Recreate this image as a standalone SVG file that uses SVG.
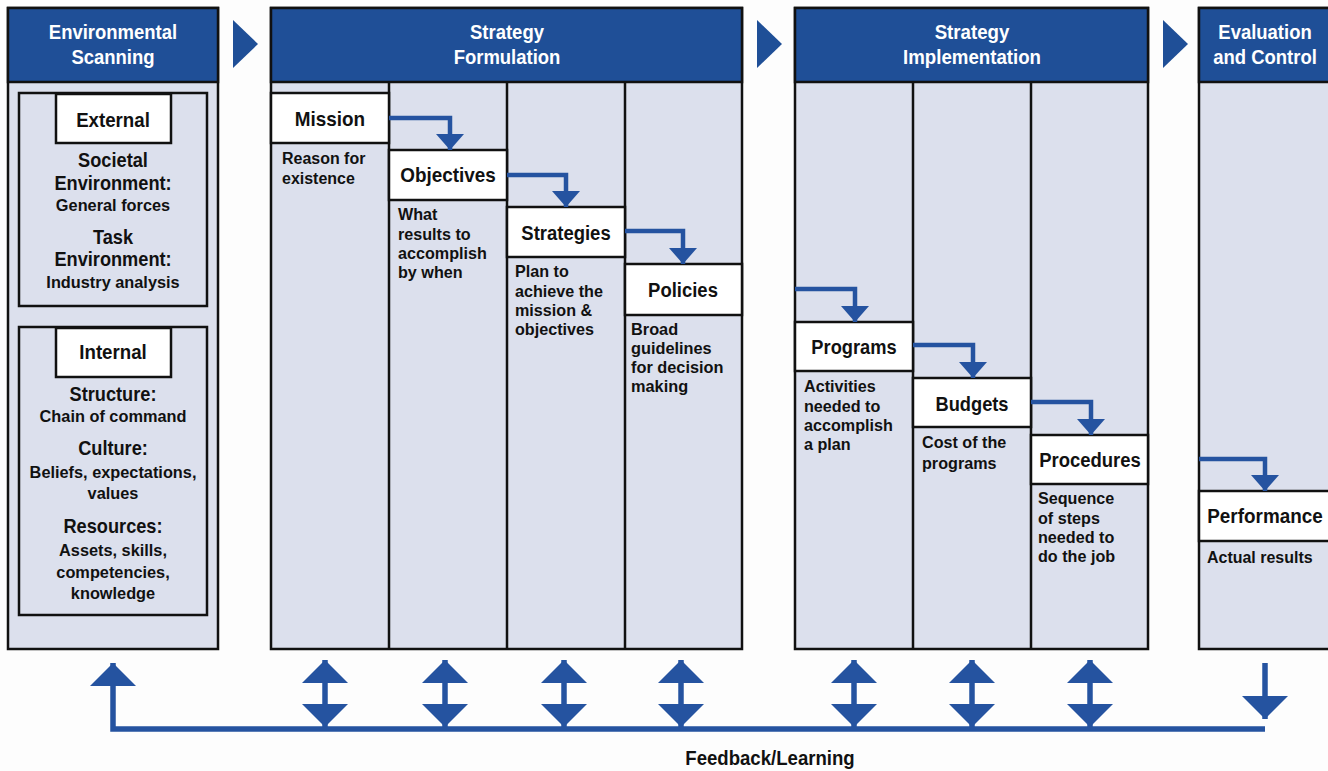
<svg xmlns="http://www.w3.org/2000/svg" width="1328" height="771" viewBox="0 0 1328 771">
<style>
.bg{fill:#fdfdfd}
.body{fill:#dce0ed;stroke:#111;stroke-width:2.5}
.hdr{fill:#1f4f97;stroke:#111;stroke-width:2.5}
.box{fill:#fff;stroke:#111;stroke-width:2.5}
.sep{stroke:#111;stroke-width:2.5;fill:none}
.tri{fill:#1f4f97}
.conn{fill:none;stroke:#2553a0;stroke-width:4.5}
.fb{fill:none;stroke:#2553a0;stroke-width:5.5}
text{font-family:"Liberation Sans",Arial,sans-serif;font-weight:bold;fill:#111}
.h{fill:#fff;font-size:21px;text-anchor:middle}
.n{font-size:21px;text-anchor:middle}
.d{font-size:17px}
.dc{font-size:17px;text-anchor:middle}
.s{font-size:20px;text-anchor:middle}
</style>
<defs>
<marker id="ah" viewBox="0 0 16 28" refX="16" refY="14" markerWidth="16" markerHeight="28" markerUnits="userSpaceOnUse" orient="auto"><path d="M0,0 L16,14 L0,28 Z" fill="#2553a0"/></marker>
<marker id="big" viewBox="0 0 23 46" refX="23" refY="23" markerWidth="23" markerHeight="46" markerUnits="userSpaceOnUse" orient="auto-start-reverse"><path d="M0,0 L23,23 L0,46 Z" fill="#2553a0"/></marker>
</defs>
<rect class="bg" x="0" y="0" width="1328" height="771"/>

<g id="env">
<rect class="body" x="8" y="8" width="210" height="641"/>
<rect class="hdr" x="8" y="8" width="210" height="74"/>
<g transform="translate(113 0) scale(0.88 1)">
<text class="h" x="0" y="39">Environmental</text>
<text class="h" x="0" y="64">Scanning</text>
</g>
<g id="external">
<rect class="sep" x="19" y="93" width="188" height="213"/>
<rect class="box" x="56" y="94" width="115" height="49"/>
<g transform="translate(113 0) scale(0.89 1)"><text class="n" x="0" y="127">External</text></g>
<g transform="translate(113 0) scale(0.91 1)">
<text class="s" x="0" y="167">Societal</text>
<text class="s" x="0" y="190">Environment:</text>
<text class="s" x="0" y="244">Task</text>
<text class="s" x="0" y="266">Environment:</text>
</g>
<g transform="translate(113 0) scale(0.96 1)">
<text class="dc" x="0" y="211">General forces</text>
<text class="dc" x="0" y="288">Industry analysis</text>
</g>
</g>
<g id="internal">
<rect class="sep" x="19" y="327" width="188" height="288"/>
<rect class="box" x="56" y="328" width="115" height="49"/>
<g transform="translate(113 0) scale(0.89 1)"><text class="n" x="0" y="359">Internal</text></g>
<g transform="translate(113 0) scale(0.91 1)">
<text class="s" x="0" y="401">Structure:</text>
<text class="s" x="0" y="455">Culture:</text>
<text class="s" x="0" y="533">Resources:</text>
</g>
<g transform="translate(113 0) scale(0.96 1)">
<text class="dc" x="0" y="422">Chain of command</text>
<text class="dc" x="0" y="478">Beliefs, expectations,</text>
<text class="dc" x="0" y="499">values</text>
<text class="dc" x="0" y="556">Assets, skills,</text>
<text class="dc" x="0" y="578">competencies,</text>
<text class="dc" x="0" y="599">knowledge</text>
</g>
</g>
</g>

<g id="formulation">
<rect class="body" x="271" y="8" width="471" height="641"/>
<rect class="hdr" x="271" y="8" width="471" height="74"/>
<g transform="translate(507 0) scale(0.88 1)">
<text class="h" x="0" y="39">Strategy</text>
<text class="h" x="0" y="64">Formulation</text>
</g>
<path class="sep" d="M389,82 V649 M507,82 V649 M625,82 V649"/>
</g>
<g id="mission">
<rect class="box" x="271" y="93" width="118" height="50"/>
<g transform="translate(330 0) scale(0.9 1)"><text class="n" x="0" y="126">Mission</text></g>
<g transform="translate(282 0) scale(0.94 1)">
<text class="d" x="0" y="164">Reason for</text>
<text class="d" x="0" y="184">existence</text>
</g>
</g>
<g id="objectives">
<rect class="box" x="389" y="150" width="118" height="50"/>
<g transform="translate(448 0) scale(0.9 1)"><text class="n" x="0" y="182">Objectives</text></g>
<g transform="translate(398 0) scale(0.95 1)">
<text class="d" x="0" y="220">What</text>
<text class="d" x="0" y="240">results to</text>
<text class="d" x="0" y="259">accomplish</text>
<text class="d" x="0" y="278">by when</text>
</g>
</g>
<g id="strategies">
<rect class="box" x="507" y="207" width="118" height="50"/>
<g transform="translate(566 0) scale(0.88 1)"><text class="n" x="0" y="240">Strategies</text></g>
<g transform="translate(515 0) scale(0.95 1)">
<text class="d" x="0" y="277">Plan to</text>
<text class="d" x="0" y="297">achieve the</text>
<text class="d" x="0" y="316">mission &amp;</text>
<text class="d" x="0" y="335">objectives</text>
</g>
</g>
<g id="policies">
<rect class="box" x="625" y="264" width="117" height="51"/>
<g transform="translate(683 0) scale(0.88 1)"><text class="n" x="0" y="297">Policies</text></g>
<g transform="translate(631 0) scale(0.96 1)">
<text class="d" x="0" y="335">Broad</text>
<text class="d" x="0" y="354">guidelines</text>
<text class="d" x="0" y="373">for decision</text>
<text class="d" x="0" y="392">making</text>
</g>
</g>

<g id="implementation">
<rect class="body" x="795" y="8" width="353" height="641"/>
<rect class="hdr" x="795" y="8" width="353" height="74"/>
<g transform="translate(972 0) scale(0.89 1)">
<text class="h" x="0" y="39">Strategy</text>
<text class="h" x="0" y="64">Implementation</text>
</g>
<path class="sep" d="M913,82 V649 M1031,82 V649"/>
</g>
<g id="programs">
<rect class="box" x="795" y="322" width="118" height="49"/>
<g transform="translate(854 0) scale(0.87 1)"><text class="n" x="0" y="354">Programs</text></g>
<g transform="translate(804 0) scale(0.95 1)">
<text class="d" x="0" y="392">Activities</text>
<text class="d" x="0" y="412">needed to</text>
<text class="d" x="0" y="431">accomplish</text>
<text class="d" x="0" y="450">a plan</text>
</g>
</g>
<g id="budgets">
<rect class="box" x="913" y="378" width="118" height="49"/>
<g transform="translate(972 0) scale(0.87 1)"><text class="n" x="0" y="411">Budgets</text></g>
<g transform="translate(922 0) scale(0.95 1)">
<text class="d" x="0" y="448">Cost of the</text>
<text class="d" x="0" y="469">programs</text>
</g>
</g>
<g id="procedures">
<rect class="box" x="1031" y="435" width="117" height="49"/>
<g transform="translate(1090 0) scale(0.88 1)"><text class="n" x="0" y="467">Procedures</text></g>
<g transform="translate(1038 0) scale(0.95 1)">
<text class="d" x="0" y="504">Sequence</text>
<text class="d" x="0" y="524">of steps</text>
<text class="d" x="0" y="543">needed to</text>
<text class="d" x="0" y="562">do the job</text>
</g>
</g>

<g id="evaluation">
<rect class="body" x="1199" y="8" width="135" height="641"/>
<rect class="hdr" x="1199" y="8" width="135" height="74"/>
<g transform="translate(1265 0) scale(0.88 1)">
<text class="h" x="0" y="39">Evaluation</text>
<text class="h" x="0" y="64">and Control</text>
</g>
</g>
<g id="performance">
<rect class="box" x="1199" y="491" width="135" height="50"/>
<g transform="translate(1265 0) scale(0.9 1)"><text class="n" x="0" y="523">Performance</text></g>
<g transform="translate(1207 0) scale(0.94 1)"><text class="d" x="0" y="563">Actual results</text></g>
</g>

<g id="stage-arrows">
<polygon class="tri" points="233,20 258,44 233,68"/>
<polygon class="tri" points="757,20 782,44 757,68"/>
<polygon class="tri" points="1163,20 1188,44 1163,68"/>
</g>

<g id="connectors">
<path class="conn" d="M389,118 H450 V150" marker-end="url(#ah)"/>
<path class="conn" d="M507,175 H566 V207" marker-end="url(#ah)"/>
<path class="conn" d="M625,231 H683 V264" marker-end="url(#ah)"/>
<path class="conn" d="M795,289 H855 V322" marker-end="url(#ah)"/>
<path class="conn" d="M913,345 H973 V378" marker-end="url(#ah)"/>
<path class="conn" d="M1031,402 H1091 V435" marker-end="url(#ah)"/>
<path class="conn" d="M1199,459 H1265 V491" marker-end="url(#ah)"/>
<path class="fb" d="M1265,729 H113 V663" marker-end="url(#big)"/>
<path class="fb" d="M1265,663 V719" marker-end="url(#big)"/>
<path class="fb" d="M325,660 V727" marker-start="url(#big)" marker-end="url(#big)"/>
<path class="fb" d="M445,660 V727" marker-start="url(#big)" marker-end="url(#big)"/>
<path class="fb" d="M564,660 V727" marker-start="url(#big)" marker-end="url(#big)"/>
<path class="fb" d="M681,660 V727" marker-start="url(#big)" marker-end="url(#big)"/>
<path class="fb" d="M854,660 V727" marker-start="url(#big)" marker-end="url(#big)"/>
<path class="fb" d="M972,660 V727" marker-start="url(#big)" marker-end="url(#big)"/>
<path class="fb" d="M1090,660 V727" marker-start="url(#big)" marker-end="url(#big)"/>
<g transform="translate(770 0) scale(0.93 1)"><text x="0" y="765" style="font-size:20px;text-anchor:middle">Feedback/Learning</text></g>
</g>
</svg>
